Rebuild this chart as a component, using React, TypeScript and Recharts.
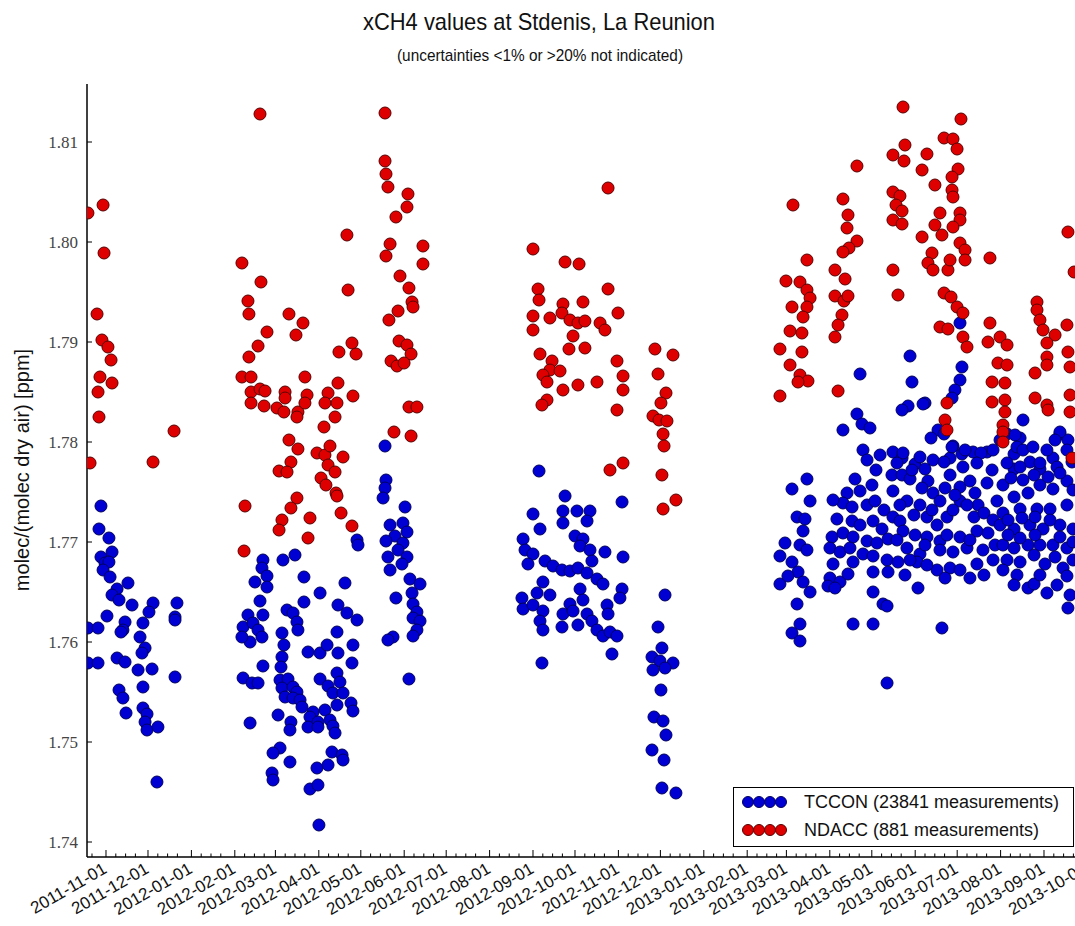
import React from 'react';
import { ScatterChart, Scatter, XAxis, YAxis, Legend } from 'recharts';

// Observation date = days after 2011-11-01, value = column-averaged CH4 in ppm
type Obs = [number, number];

const EPOCH = Date.UTC(2011, 10, 1);

const MONTH_LABELS = [
  '2011-11-01', '2011-12-01', '2012-01-01', '2012-02-01', '2012-03-01', '2012-04-01',
  '2012-05-01', '2012-06-01', '2012-07-01', '2012-08-01', '2012-09-01', '2012-10-01',
  '2012-11-01', '2012-12-01', '2013-01-01', '2013-02-01', '2013-03-01', '2013-04-01',
  '2013-05-01', '2013-06-01', '2013-07-01', '2013-08-01', '2013-09-01', '2013-10-01',
];

const PPM_TICKS = [1.74, 1.75, 1.76, 1.77, 1.78, 1.79, 1.8, 1.81];

// ---- TCCON ----
const tccon2011: Obs[] = [
  [-3.6, 1.7736], [-5, 1.7713], [2.1, 1.7704], [4.3, 1.769], [-3.6, 1.7685], [-0.7, 1.7679], [2.1, 1.768],
  [-2.1, 1.7672], [2.9, 1.7665], [15.7, 1.7659], [7.9, 1.7653], [4.3, 1.7647], [9.3, 1.7642], [18.6, 1.7637],
  [0.7, 1.7626], [33.6, 1.7639], [30.7, 1.763], [26.4, 1.7619], [13.6, 1.762], [12.1, 1.7612], [10.7, 1.761],
  [24.3, 1.7605], [-12.9, 1.7614], [-5.7, 1.7614], [27.9, 1.7594], [25.7, 1.7589], [7.9, 1.7584], [13.6, 1.758],
  [22.9, 1.7572], [32.9, 1.7573], [-12.9, 1.7579], [-5.7, 1.7579], [9.3, 1.7552], [12.1, 1.7544], [14.3, 1.7529],
  [26.4, 1.7555], [26.4, 1.7534], [29.3, 1.7528], [27.9, 1.752], [29.3, 1.7512], [37.1, 1.7515], [36.4, 1.746],
  [50.7, 1.7639], [49.3, 1.7625], [49.3, 1.7622], [49.3, 1.7565],
];

const tcconMarMay2012: Obs[] = [
  [112.1, 1.7682], [111.4, 1.7674], [115, 1.7666], [106.4, 1.766], [115, 1.7655], [110, 1.7641], [126.4, 1.7682],
  [135, 1.7687], [141.4, 1.7665], [152.9, 1.7649], [141.4, 1.764], [170.7, 1.7659], [165.7, 1.7637], [179.3, 1.7702],
  [180, 1.7697], [101.4, 1.7627], [112.1, 1.7627], [97.9, 1.7615], [105, 1.7619], [108.6, 1.7612], [111.4, 1.7605],
  [102.9, 1.76], [97.1, 1.7605], [129.3, 1.7632], [133.6, 1.7629], [136.4, 1.762], [137.1, 1.7612], [125.7, 1.7609],
  [127.1, 1.7597], [125.7, 1.7585], [125, 1.7575], [112.1, 1.7576], [97.9, 1.7564], [104.3, 1.7559], [108.6, 1.7559],
  [144.3, 1.759], [152.9, 1.7589], [157.9, 1.7597], [165, 1.761], [165.7, 1.7589], [172.1, 1.7629], [179.3, 1.7622],
  [176.4, 1.7597], [175.7, 1.7579], [124.3, 1.7562], [130, 1.7563], [125.7, 1.7554], [133.6, 1.7555], [136.4, 1.755],
  [127.9, 1.7545], [133.6, 1.7544], [138.6, 1.7542], [140, 1.7535], [152.9, 1.7563], [158.6, 1.7556], [165, 1.7569],
  [167.1, 1.756], [162.1, 1.7549], [169.3, 1.7549], [165, 1.7537], [175, 1.7539], [176.4, 1.7531], [156.4, 1.7532],
  [147.9, 1.753], [145.7, 1.7525], [151.4, 1.752], [160, 1.7522], [144.3, 1.7515], [151.4, 1.7515], [162.1, 1.7516],
  [163.6, 1.7509], [122.9, 1.7527], [132.1, 1.752], [131.4, 1.7512], [102.9, 1.7519], [124.3, 1.7494], [119.3, 1.7489],
  [131.4, 1.748], [118.6, 1.7469], [119.3, 1.7462], [150.7, 1.7474], [145.7, 1.7453], [151.4, 1.7457], [158.6, 1.7477],
  [161.4, 1.749], [168.6, 1.7487], [169.3, 1.7482], [152.1, 1.7417],
];

const tcconJunJul2012: Obs[] = [
  [199.3, 1.7796], [200, 1.7762], [199.3, 1.7754], [197.9, 1.7744], [213.6, 1.7735], [202.9, 1.7717], [212.1, 1.7719],
  [215, 1.771], [206.4, 1.7706], [200, 1.7701], [212.1, 1.7699], [208.6, 1.7692], [215, 1.7685], [201.4, 1.7685],
  [211.4, 1.7678], [202.9, 1.7672], [217.1, 1.7663], [224.3, 1.7658], [207.1, 1.7644], [218.6, 1.7649], [219.3, 1.7638],
  [222.1, 1.763], [219.3, 1.7624], [224.3, 1.7621], [222.1, 1.7612], [219.3, 1.7606], [205, 1.7605], [216.4, 1.7563],
  [201.4, 1.7602],
];

const tcconSepNov2012: Obs[] = [
  [309.3, 1.7771], [327.9, 1.7746], [305, 1.7728], [310, 1.7713], [326.4, 1.7731], [326.4, 1.7719], [336.4, 1.7731],
  [345.7, 1.7731], [343.6, 1.7721], [335, 1.7706], [340.7, 1.7703], [338.6, 1.7696], [345.7, 1.7692], [356.4, 1.769],
  [368.6, 1.774], [369.3, 1.7685], [347.1, 1.7681], [297.9, 1.7703], [299.3, 1.7692], [305, 1.7688], [301.4, 1.7678],
  [313.6, 1.7681], [319.3, 1.7676], [325.7, 1.7672], [331.4, 1.7671], [337.1, 1.7674], [343.6, 1.7669], [350.7, 1.7663],
  [355, 1.7658], [312.1, 1.766], [307.9, 1.7649], [317.1, 1.7647], [297.1, 1.7644], [297.9, 1.7633], [305, 1.7637],
  [312.1, 1.7631], [310, 1.7621], [312.1, 1.7612], [325.7, 1.7615], [326.4, 1.7628], [331.4, 1.7638], [338.6, 1.7653],
  [340.7, 1.7642], [333.6, 1.7631], [343.6, 1.7628], [337.1, 1.7617], [347.1, 1.7621], [350.7, 1.7612], [355, 1.7606],
  [360, 1.761], [365, 1.7606], [357.9, 1.7637], [358.6, 1.7628], [368.6, 1.7653], [367.1, 1.7644], [361.4, 1.7588],
  [311.4, 1.7579],
];

const tcconDec2012: Obs[] = [
  [399.3, 1.7647], [394.3, 1.7615], [397.1, 1.7594], [390, 1.7585], [395.7, 1.7581], [405, 1.7579], [399.3, 1.7574],
  [390.7, 1.7572], [396.4, 1.7552], [391.4, 1.7525], [397.9, 1.7521], [400, 1.7507], [390, 1.7492], [398.6, 1.7482],
  [397.1, 1.7454], [407.1, 1.7449],
];

const tcconMarApr2013: Obs[] = [
  [490, 1.7753], [500.7, 1.7763], [502.9, 1.7741], [493.6, 1.7725], [499.3, 1.7723], [497.9, 1.7711], [485, 1.7699],
  [495.7, 1.7697], [481.4, 1.7686], [490, 1.768], [500.7, 1.7692], [494.3, 1.767], [497.9, 1.766], [502.9, 1.765],
  [481.4, 1.7658], [487.1, 1.7666], [493.6, 1.7638], [495.7, 1.7618], [490, 1.7609], [495.7, 1.7601],
];

const tcconMay2013: Obs[] = [
  [538.6, 1.7868], [536.4, 1.7828], [540, 1.7818], [526.4, 1.7812], [545.7, 1.7814], [540.7, 1.7792], [543.6, 1.7782],
  [535, 1.7763], [547.1, 1.7757], [529.3, 1.7749], [538.6, 1.7751], [526.4, 1.7739], [532.9, 1.7735], [543.6, 1.7737],
  [549.3, 1.7741], [522.1, 1.7723], [532.9, 1.7721], [538.6, 1.7717], [547.9, 1.7721], [554.3, 1.7713], [518.6, 1.7705],
  [526.4, 1.7709], [533.6, 1.7705], [543.6, 1.7701], [550.7, 1.7699], [558.6, 1.7703], [517.1, 1.7694], [524.3, 1.769],
  [531.4, 1.7694], [540.7, 1.7688], [547.9, 1.7686], [557.9, 1.7682], [565.7, 1.768], [519.3, 1.7678], [533.6, 1.768],
  [517.1, 1.7664], [524.3, 1.766], [530, 1.7668], [547.9, 1.767], [558.6, 1.767], [515.7, 1.7656], [520.7, 1.7654],
  [547.9, 1.765], [555, 1.7638], [557.9, 1.7636], [533.6, 1.7618], [547.9, 1.7618], [557.9, 1.7559],
  [552.9, 1.7787], [550, 1.7772], [519.3, 1.7742], [555.7, 1.7732],
];

const tcconJunJul2013: Obs[] = [
  [574.3, 1.7886], [575.7, 1.786], [610, 1.7919], [611.4, 1.7875], [610, 1.7862], [606.4, 1.7852], [604.3, 1.7844],
  [585, 1.7839], [572.9, 1.7836], [568.6, 1.7832], [583.6, 1.7838], [594.3, 1.7812], [589.3, 1.7804], [598.6, 1.7808],
  [562.1, 1.779], [568.6, 1.7784], [577.9, 1.7778], [585, 1.7773], [590.7, 1.7782], [605, 1.7796], [602.9, 1.7784],
  [611.4, 1.7788], [619.3, 1.779], [629.3, 1.779], [561.4, 1.7767], [568.6, 1.7767], [574.3, 1.7763], [587.1, 1.7761],
  [590.7, 1.7749], [602.9, 1.7767], [610, 1.7755], [617.1, 1.7761], [629.3, 1.7759], [562.1, 1.7751], [572.1, 1.7741],
  [581.4, 1.7737], [595.7, 1.7741], [610, 1.7741], [622.9, 1.7737], [562.1, 1.7725], [567.1, 1.7721], [586.4, 1.7725],
  [593.6, 1.7717], [600.7, 1.7725], [620, 1.7725], [627.1, 1.7729], [569.3, 1.7711], [577.9, 1.7707], [586.4, 1.7705],
  [595.7, 1.7701], [610, 1.7705], [622.1, 1.7711], [630, 1.7709], [572.1, 1.7694], [581.4, 1.7688], [595.7, 1.7692],
  [605, 1.769], [615, 1.7694], [626.4, 1.7692], [579.3, 1.768], [593.6, 1.7672], [602.9, 1.7674], [622.1, 1.7678],
  [633.6, 1.7682], [597.1, 1.7614], [569.3, 1.7789], [581.4, 1.7785], [604.3, 1.7795], [613.6, 1.7792], [625, 1.7789],
  [633.6, 1.7792], [598.6, 1.778], [612.1, 1.7775], [622.1, 1.7779],
  [565, 1.7779], [575.7, 1.7772], [582.9, 1.7754], [599.3, 1.7754], [606.4, 1.7747], [620.7, 1.7749], [632.9, 1.7772],
  [567.1, 1.7737], [577.1, 1.7727], [590, 1.7732], [605, 1.7732], [615, 1.7737], [633.6, 1.7722], [565, 1.7702],
  [574.3, 1.7682], [585, 1.7697], [600.7, 1.7707], [617.1, 1.7702], [635, 1.7697], [586.4, 1.7677], [610, 1.7672],
  [627.1, 1.7667], [570.7, 1.7667], [599.3, 1.7664], [617.1, 1.7664], [580, 1.7654],
];

const tcconAugOct2013: Obs[] = [
  [643.6, 1.7808], [652.9, 1.7804], [648.6, 1.7788], [660, 1.778], [648.6, 1.7773], [667.1, 1.7773], [676.4, 1.7784],
  [681.4, 1.7808], [687.1, 1.7802], [640.7, 1.7757], [648.6, 1.7745], [658.6, 1.7749], [667.1, 1.7757], [676.4, 1.7753],
  [686.4, 1.7761], [636.4, 1.7741], [640.7, 1.7729], [652.9, 1.7733], [665, 1.7733], [674.3, 1.7733], [686.4, 1.7737],
  [638.6, 1.7717], [648.6, 1.7713], [660, 1.7717], [669.3, 1.7713], [681.4, 1.7717], [690.7, 1.7713], [640.7, 1.7697],
  [648.6, 1.7694], [658.6, 1.7697], [667.1, 1.7697], [676.4, 1.7697], [686.4, 1.7694], [643.6, 1.7682], [652.9, 1.768],
  [670.7, 1.7678], [683.6, 1.7674], [690.7, 1.7682], [640.7, 1.7672], [658.6, 1.7654], [662.9, 1.7658], [687.1, 1.7634],
  [686.4, 1.7666], [655, 1.7822], [681.4, 1.781], [677.9, 1.7802], [649.3, 1.7807], [650.7, 1.7795], [655, 1.7792],
  [662.1, 1.7795], [672.1, 1.7792], [686.4, 1.7792], [643.6, 1.7779], [652.9, 1.7775], [667.1, 1.7779], [679.3, 1.7775],
  [690, 1.778],
  [638.6, 1.7802], [646.4, 1.7764], [655, 1.7762], [662.9, 1.7767], [672.9, 1.7765], [681.4, 1.7769], [690.7, 1.7752],
  [644.3, 1.7722], [654.3, 1.7724], [663.6, 1.7725], [674.3, 1.7722], [644.3, 1.7707], [652.9, 1.7704], [663.6, 1.7707],
  [681.4, 1.7705], [690.7, 1.77], [662.9, 1.7687], [677.9, 1.7685], [650.7, 1.7667], [667.1, 1.7667], [679.3, 1.7657],
  [672.1, 1.7649], [648.6, 1.7657], [688.6, 1.7647],
];

// ---- NDACC ----
const ndacc2011: Obs[] = [
  [-12.9, 1.8029], [-2.1, 1.8037], [-1.4, 1.7989], [-6.4, 1.7928], [-2.9, 1.7902], [1.4, 1.7895], [3.6, 1.7882],
  [-4.3, 1.7865], [4.3, 1.7859], [-5.7, 1.785], [-5, 1.7825], [-11.4, 1.7779], [33.6, 1.778], [48.6, 1.7811],
];

const ndaccMarMay2012: Obs[] = [
  [110, 1.8128], [97.1, 1.7979], [110.7, 1.796], [101.4, 1.7941], [102.1, 1.7928], [130.7, 1.7928], [140.7, 1.7919],
  [115, 1.791], [135.7, 1.7907], [108.6, 1.7896], [102.1, 1.7885], [166.4, 1.789], [175.7, 1.7899], [178.6, 1.7888],
  [97.1, 1.7865], [103.6, 1.7865], [142.1, 1.7865], [103.6, 1.785], [110, 1.7853], [113.6, 1.7851], [127.9, 1.785],
  [143.6, 1.7847], [158.6, 1.7849], [165.7, 1.7859], [176.4, 1.7846], [103.6, 1.7839], [112.9, 1.7836], [122.1, 1.7834],
  [127.1, 1.783], [127.9, 1.7844], [137.1, 1.783], [136.4, 1.7825], [142.1, 1.7839], [156.4, 1.7839], [165, 1.7839],
  [163.6, 1.7825], [155.7, 1.7815], [172.1, 1.8007], [172.9, 1.7952], [130.7, 1.7802], [137.1, 1.7793], [132.1, 1.778],
  [123.6, 1.7771], [129.3, 1.777], [150.7, 1.7789], [156.4, 1.7787], [160, 1.7796], [169.3, 1.7785], [158.6, 1.7777],
  [163.6, 1.777], [153.6, 1.7764], [157.1, 1.7757], [164.3, 1.7749], [165, 1.7746], [136.4, 1.7744], [132.1, 1.7734],
  [145.7, 1.7724], [144.3, 1.7704], [167.9, 1.7729], [175.7, 1.7716], [125.7, 1.7722], [123.6, 1.7712], [99.3, 1.7736],
  [98.6, 1.7691],
];

const ndaccJunJul2012: Obs[] = [
  [199.3, 1.8129], [199.3, 1.8081], [200, 1.8068], [201.4, 1.8055], [215.7, 1.8048], [215, 1.8035], [207.1, 1.8025],
  [202.9, 1.7998], [200, 1.7986], [226.4, 1.7996], [226.4, 1.7978], [210, 1.7966], [216.4, 1.7954], [218.6, 1.794],
  [219.3, 1.7935], [208.6, 1.7931], [202.1, 1.7922], [209.3, 1.7901], [215, 1.7897], [217.9, 1.7888], [203.6, 1.7881],
  [207.9, 1.7876], [212.9, 1.7879], [216.4, 1.7835], [222.1, 1.7835], [205.7, 1.781], [217.9, 1.7806],
];

const ndaccSepNov2012: Obs[] = [
  [358.6, 1.8054], [305, 1.7993], [327.9, 1.798], [337.9, 1.7978], [358.6, 1.7953], [308.6, 1.7953], [309.3, 1.7942],
  [326.4, 1.7938], [340.7, 1.794], [365.7, 1.7929], [305, 1.7926], [317.1, 1.7924], [325.7, 1.7929], [331.4, 1.7922],
  [337.1, 1.7919], [342.1, 1.7921], [352.9, 1.7919], [356.4, 1.7912], [305, 1.7912], [333.6, 1.7906], [330.7, 1.7893],
  [342.1, 1.7894], [310, 1.7888], [318.6, 1.7881], [317.1, 1.7872], [324.3, 1.7871], [312.1, 1.7867], [315, 1.786],
  [326.4, 1.7852], [337.1, 1.7857], [350.7, 1.786], [365, 1.7881], [369.3, 1.7866], [369.3, 1.7852], [315, 1.7842],
  [311.4, 1.7837], [365, 1.7832], [360, 1.7772], [369.3, 1.7779],
];

const ndaccDec2012: Obs[] = [
  [392.1, 1.7893], [405, 1.7887], [394.3, 1.7868], [400, 1.7849], [396.4, 1.7839], [390.7, 1.7826], [395, 1.7822],
  [400.7, 1.7821], [397.9, 1.7808], [398.6, 1.7796], [397.1, 1.7767], [397.9, 1.7733], [407.1, 1.7742],
];

const ndaccMarApr2013: Obs[] = [
  [490.7, 1.8037], [500.7, 1.7982], [485.7, 1.7961], [495.7, 1.796], [500.7, 1.7952], [502.9, 1.7944], [500.7, 1.7935],
  [490, 1.7935], [497.9, 1.7925], [488.6, 1.7911], [497.1, 1.7909], [481.4, 1.7893], [497.1, 1.789], [488.6, 1.7877],
  [495.7, 1.7867], [501.4, 1.7861], [494.3, 1.786], [481.4, 1.7846],
];

const ndaccMay2013: Obs[] = [
  [536.4, 1.8076], [526.4, 1.8043], [530, 1.8027], [529.3, 1.8014], [536.4, 1.8001], [530.7, 1.7994], [526.4, 1.799],
  [520.7, 1.7972], [527.9, 1.7963], [520.7, 1.7946], [527.1, 1.7941], [530, 1.7946], [525.7, 1.7927], [522.9, 1.7917],
  [520.7, 1.7905], [522.9, 1.7851],
];

const ndaccJunJul2013: Obs[] = [
  [569.3, 1.8135], [570.7, 1.8097], [562.1, 1.8087], [570, 1.8081], [562.1, 1.805], [567.1, 1.8046], [564.3, 1.8037],
  [568.6, 1.8031], [562.1, 1.8022], [568.6, 1.8018], [562.1, 1.7972], [565.7, 1.7947], [610.7, 1.8123], [598.6, 1.8104],
  [605, 1.8103], [607.9, 1.8093], [586.4, 1.8088], [582.9, 1.8072], [608.6, 1.8073], [604.3, 1.8065], [592.1, 1.8057],
  [604.3, 1.8052], [605, 1.8045], [595.7, 1.8029], [592.1, 1.8017], [597.1, 1.8007], [610, 1.8029], [610, 1.8022],
  [605, 1.8015], [582.9, 1.8005], [610, 1.7999], [613.6, 1.7992], [613.6, 1.7982], [590, 1.7989], [587.1, 1.7979],
  [590.7, 1.7972], [601.4, 1.7972], [602.9, 1.7982], [631.4, 1.7984], [598.6, 1.7949], [603.6, 1.7945], [607.9, 1.7935],
  [612.1, 1.7929], [595.7, 1.7915], [601.4, 1.7913], [612.1, 1.7905], [615, 1.7895], [600.7, 1.7839], [599.3, 1.7822],
  [600.7, 1.7812],
];

const ndaccAug2013: Obs[] = [
  [631.4, 1.7919], [630, 1.79], [638.6, 1.7905], [643.6, 1.7897], [637.1, 1.7879], [643.6, 1.7877], [632.9, 1.786],
  [642.1, 1.7859], [632.9, 1.784], [642.1, 1.7842], [642.1, 1.783], [640.7, 1.7817], [640.7, 1.781], [640.7, 1.78],
];

const ndaccSepOct2013: Obs[] = [
  [687.1, 1.801], [665, 1.794], [665, 1.7932], [667.1, 1.7922], [669.3, 1.7912], [677.9, 1.7907], [672.1, 1.7899],
  [686.4, 1.7917], [672.1, 1.7885], [672.1, 1.7877], [663.6, 1.7869], [687.1, 1.789], [688.6, 1.7875], [663.6, 1.7844],
  [672.1, 1.7837], [672.9, 1.7832], [688.6, 1.7847], [688.6, 1.783], [690, 1.7784], [691.5, 1.797],
];

const TCCON_NAME = 'TCCON (23841 measurements)';
const NDACC_NAME = 'NDACC (881 measurements)';
const LEGEND_ORDER = [TCCON_NAME, NDACC_NAME];

const BLUE = '#0000d2';
const BLUE_EDGE = '#000060';
const RED = '#de0000';
const RED_EDGE = '#580000';

const toPoints = (groups: Obs[][]) => groups.flat().map(([day, ppm]) => ({ day, ppm }));

const tcconData = toPoints([
  tccon2011, tcconMarMay2012, tcconJunJul2012, tcconSepNov2012, tcconDec2012,
  tcconMarApr2013, tcconMay2013, tcconJunJul2013, tcconAugOct2013,
]);
const ndaccData = toPoints([
  ndacc2011, ndaccMarMay2012, ndaccJunJul2012, ndaccSepNov2012, ndaccDec2012,
  ndaccMarApr2013, ndaccMay2013, ndaccJunJul2013, ndaccAug2013, ndaccSepOct2013,
]);

const dayOf = (iso: string) => {
  const [y, m, d] = iso.split('-').map(Number);
  return Math.round((Date.UTC(y, m - 1, d) - EPOCH) / 86400000);
};

const X_DOMAIN: [number, number] = [-13.57, 710];
const Y_DOMAIN: [number, number] = [1.7385, 1.8158];

// chart frame
const CHART_W = 1100;
const CHART_H = 926;
const PLOT_TOP = 84;
const PLOT_LEFT = 87;
const X_AXIS_H = 69;
const PLOT_BOTTOM = CHART_H - X_AXIS_H;

const majorTicks = new Map<number, string>(MONTH_LABELS.map((s) => [dayOf(s), s]));

// minor ticks on the 8th, 15th and 22nd of each month
const minorTicks: number[] = [];
for (let i = -1; i < 25; i++) {
  const y = 2011 + Math.floor((10 + i) / 12);
  const m = (10 + i) % 12;
  [8, 15, 22].forEach((d) => {
    const v = (Date.UTC(y, m, d) - EPOCH) / 86400000;
    if (v > X_DOMAIN[0] && v < X_DOMAIN[1]) minorTicks.push(v);
  });
}
const allXTicks = [...Array.from(majorTicks.keys()), ...minorTicks].sort((a, b) => a - b);

const SANS = '"Liberation Sans", Arial, Helvetica, sans-serif';
const SERIF = '"Liberation Serif", "Times New Roman", serif';

const BottomTick = (props: any) => {
  const { x, payload } = props;
  const label = majorTicks.get(payload.value);
  const len = label ? 7 : 3.5;
  const lx = x + 2;
  const ly = PLOT_BOTTOM + 15;
  return (
    <g>
      <line x1={x} y1={PLOT_BOTTOM} x2={x} y2={PLOT_BOTTOM - len} stroke="#000" strokeWidth={1} />
      {label && (
        <text
          x={lx}
          y={ly}
          textAnchor="end"
          transform={`rotate(-30 ${lx} ${ly})`}
          fontFamily={SANS}
          fontSize={17}
          fill="#111"
        >
          {label}
        </text>
      )}
    </g>
  );
};

const TopTick = (props: any) => {
  const { x, payload } = props;
  const len = majorTicks.has(payload.value) ? 7 : 3.5;
  return <line x1={x} y1={PLOT_TOP} x2={x} y2={PLOT_TOP + len} stroke="#000" strokeWidth={1} />;
};

const PpmTick = (props: any) => {
  const { y, payload } = props;
  return (
    <g>
      <line x1={PLOT_LEFT} y1={y} x2={PLOT_LEFT + 5} y2={y} stroke="#000" strokeWidth={1} />
      <text x={PLOT_LEFT - 9} y={y} dy="0.35em" textAnchor="end" fontFamily={SERIF} fontSize={17} fill="#444">
        {Number(payload.value).toFixed(2)}
      </text>
    </g>
  );
};

const dot = (fill: string, edge: string) => (props: any) => (
  <circle cx={props.cx} cy={props.cy} r={6} fill={fill} stroke={edge} strokeWidth={1} />
);

const EDGE_BY_NAME: Record<string, string> = { [TCCON_NAME]: BLUE_EDGE, [NDACC_NAME]: RED_EDGE };

const renderLegend = (props: any) => {
  const items = [...((props.payload || []) as any[])].sort(
    (a, b) => LEGEND_ORDER.indexOf(a.value) - LEGEND_ORDER.indexOf(b.value),
  );
  return (
    <div
      style={{
        boxSizing: 'border-box',
        width: 341,
        height: 60,
        border: '1.5px solid #000',
        background: '#fff',
      }}
    >
      {items.map((item) => (
        <div key={item.value} style={{ display: 'flex', alignItems: 'center', height: 28 }}>
          <svg width={70} height={28} style={{ flex: 'none' }}>
            {[14, 25, 36, 47].map((cx) => (
              <circle key={cx} cx={cx} cy={14} r={5.5} fill={item.color} stroke={EDGE_BY_NAME[item.value]} strokeWidth={1} />
            ))}
          </svg>
          <span style={{ fontFamily: SANS, fontSize: 18, color: '#111', whiteSpace: 'nowrap' }}>{item.value}</span>
        </div>
      ))}
    </div>
  );
};

export default function App() {
  return (
    <div
      style={{
        position: 'absolute',
        left: 0,
        top: 0,
        width: 1075,
        height: 926,
        overflow: 'hidden',
        background: '#fff',
        fontFamily: SANS,
      }}
    >
      <ScatterChart width={CHART_W} height={CHART_H} margin={{ top: PLOT_TOP, right: 0, bottom: 0, left: 0 }}>
        <XAxis
          xAxisId="bottom"
          dataKey="day"
          type="number"
          domain={X_DOMAIN}
          allowDataOverflow
          ticks={allXTicks}
          interval={0}
          height={X_AXIS_H}
          tickSize={0}
          tickMargin={0}
          tick={<BottomTick />}
          axisLine={{ stroke: '#000', strokeWidth: 1.5 }}
        />
        <XAxis
          xAxisId="top"
          orientation="top"
          dataKey="day"
          type="number"
          domain={X_DOMAIN}
          allowDataOverflow
          ticks={allXTicks}
          interval={0}
          height={0}
          tickSize={0}
          tickMargin={0}
          tick={<TopTick />}
          axisLine={{ stroke: '#000', strokeWidth: 1.5 }}
        />
        <YAxis
          dataKey="ppm"
          type="number"
          domain={Y_DOMAIN}
          allowDataOverflow
          ticks={PPM_TICKS}
          interval={0}
          width={PLOT_LEFT}
          tickSize={0}
          tickMargin={0}
          tick={<PpmTick />}
          axisLine={{ stroke: '#000', strokeWidth: 1.5 }}
        />
        <Legend
          layout="vertical"
          align="center"
          verticalAlign="middle"
          content={renderLegend}
          wrapperStyle={{ left: 733, top: 787, width: 341, height: 60 }}
        />
        <Scatter
          name={TCCON_NAME}
          xAxisId="bottom"
          data={tcconData}
          fill={BLUE}
          shape={dot(BLUE, BLUE_EDGE)}
          isAnimationActive={false}
        />
        <Scatter
          name={NDACC_NAME}
          xAxisId="bottom"
          data={ndaccData}
          fill={RED}
          shape={dot(RED, RED_EDGE)}
          isAnimationActive={false}
        />
      </ScatterChart>
      <svg
        width={1075}
        height={926}
        style={{ position: 'absolute', left: 0, top: 0, pointerEvents: 'none' }}
      >
        <text x={539} y={30} textAnchor="middle" fontFamily={SANS} fontSize={24} fill="#111" textLength={352} lengthAdjust="spacingAndGlyphs">
          xCH4 values at Stdenis, La Reunion
        </text>
        <text x={540} y={61} textAnchor="middle" fontFamily={SANS} fontSize={17} fill="#111" textLength={286} lengthAdjust="spacingAndGlyphs">
          {'(uncertainties <1% or >20% not indicated)'}
        </text>
        <text
          x={22}
          y={470}
          textAnchor="middle"
          dominantBaseline="central"
          transform="rotate(-90 22 470)"
          fontFamily={SANS}
          fontSize={20}
          fill="#111"
        >
          molec/(molec dry air) [ppm]
        </text>
      </svg>
    </div>
  );
}
